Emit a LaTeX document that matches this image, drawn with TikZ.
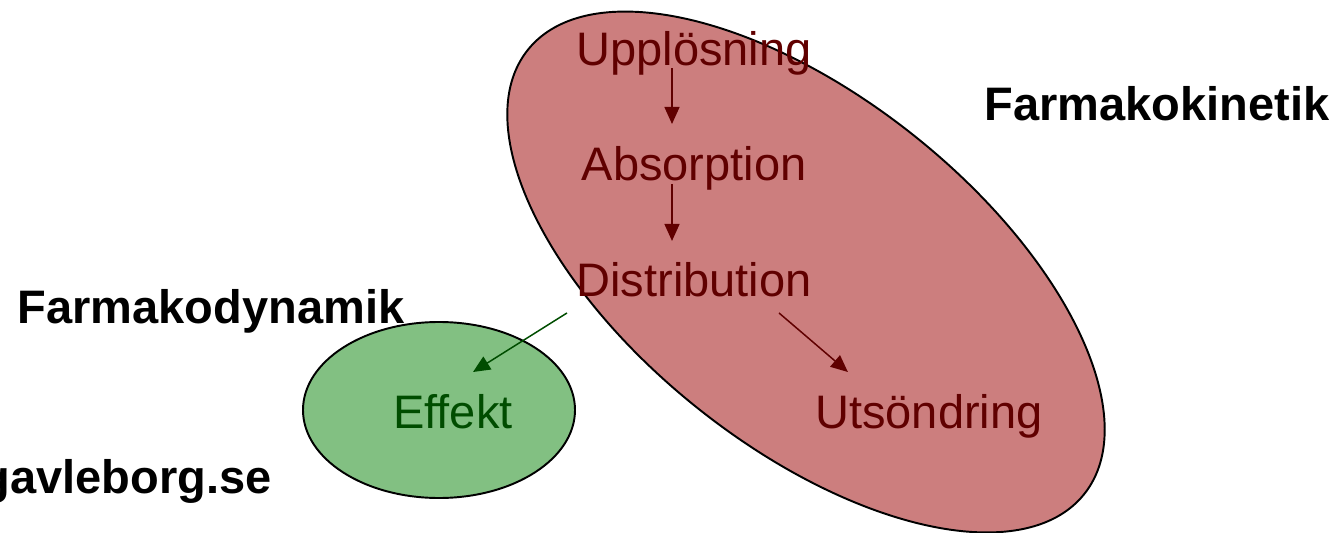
\documentclass[tikz,border=0pt]{standalone}
\usepackage{fontspec}
\setmainfont{Liberation Sans}
\usepackage{tikz}
\usetikzlibrary{calc,positioning,arrows.meta}

\definecolor{kinfyll}{RGB}{204,126,126}
\definecolor{kinmork}{RGB}{96,0,0}
\definecolor{dynfyll}{RGB}{130,192,130}
\definecolor{dynmork}{RGB}{0,77,0}

\begin{document}
\begin{tikzpicture}[x=0.02cm, y=0.02cm, node distance = 2.32cm,
  kinetik/.style = {fill=kinfyll, draw=black, line width=1.1pt},
  dynamik/.style = {fill=dynfyll, draw=black, line width=1.1pt},
  kintext/.style = {text=kinmork, inner sep=0pt, font=\fontsize{26.75}{32}\selectfont},
  dyntext/.style = {text=dynmork, inner sep=0pt, font=\fontsize{26.75}{32}\selectfont},
  rubrik/.style = {text=black, inner sep=0pt, font=\fontsize{26.75}{32}\selectfont\bfseries},
  kinpil/.style = {draw=kinmork, line width=0.85pt, -{Triangle[length=0.34cm,width=0.3cm]}},
  dynpil/.style = {draw=dynmork, line width=0.85pt, -{Triangle[length=0.34cm,width=0.3cm]}}]
\useasboundingbox (0,0) rectangle (1342,532);

% the two areas
\draw[kinetik] (806,260) ellipse [x radius=356, y radius=174, rotate=-38.6];
\draw[dynamik] (439,122) ellipse [x radius=136, y radius=88];

% steps
\node (upp) [kintext, anchor=base] at (694,467) {Upplösning};
\node (abs) [kintext, below=of upp.base, anchor=base] {Absorption};
\node (dist) [kintext, below=of abs.base, anchor=base] {Distribution};
\node (eff) [dyntext, anchor=base] at (453,104) {Effekt};
\node (uts) [kintext, right=9.52cm of eff.base, anchor=base] {Utsöndring};

% headings
\node (kinrubrik) [rubrik, anchor=base] at (1157,412) {Farmakokinetik};
\node (dynrubrik) [rubrik, anchor=base] at (211,209) {Farmakodynamik};
\node (webb) [rubrik, anchor=base east] at (272,39) {gavleborg.se};

\draw[kinpil] ($(upp.base)+(-22,-3)$) -- ($(abs.base)+(-22,57)$);
\draw[kinpil] ($(abs.base)+(-22,-3)$) -- ($(dist.base)+(-22,56)$);
\draw[kinpil] ($(dist.base)+(85,-16)$) -- ($(uts.base)+(-81,56)$);
\draw[dynpil] ($(dist.base)+(-127,-16)$) -- ($(eff.base)+(20,56)$);
\end{tikzpicture}
\end{document}
